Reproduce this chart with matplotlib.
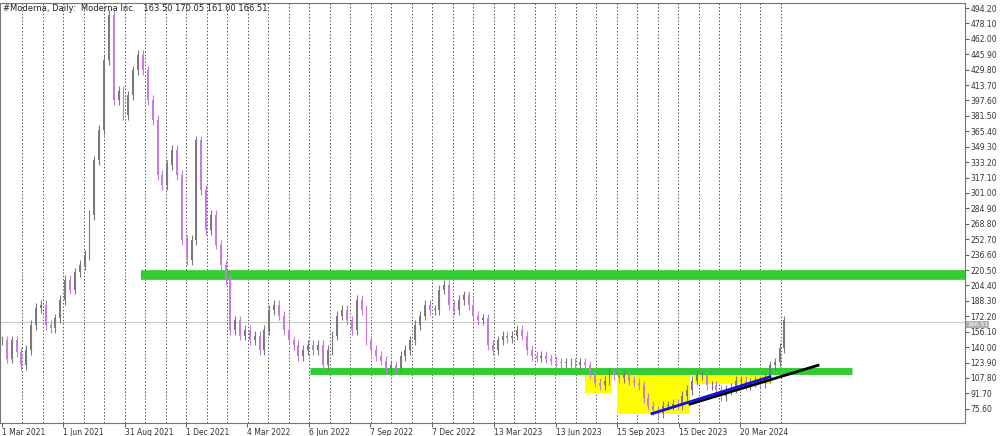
import matplotlib
matplotlib.use("Agg")
import matplotlib.pyplot as plt
from matplotlib.patches import Rectangle

# weekly closes
closes = [147,128,147,135,121,137,163,181,184,163,160,170,189,210,200,218,226,236,278,335,367,440,487,398,408,382,403,429,445,429,398,377,320,309,330,346,320,252,231,252,356,304,262,278,247,226,210,158,168,152,158,147,152,137,158,179,184,173,158,147,142,131,137,142,137,142,121,137,152,173,179,168,158,189,179,147,137,131,126,118,121,118,131,137,147,163,173,184,179,179,200,205,184,179,189,194,184,173,168,170,142,137,147,152,149,152,158,152,137,131,129,131,128,126,124,123,124,124,121,124,121,113,103,100,105,113,111,108,111,105,103,100,87,79,74,71,79,79,81,79,89,95,105,111,111,100,100,95,89,95,97,105,105,100,103,105,102,108,121,124,139,168]
date_labels = ["1 Mar 2021","1 Jun 2021","31 Aug 2021","1 Dec 2021","4 Mar 2022","6 Jun 2022","7 Sep 2022","7 Dec 2022","13 Mar 2023","13 Jun 2023","15 Sep 2023","15 Dec 2023","20 Mar 2024"]
date_weeks = [0,12.55,25.3,37.9,50.4,63.2,75.7,88.5,101.2,114,126.5,139.3,151.9]
price_ticks = [494.2,478.1,462.0,445.9,429.8,413.7,397.6,381.5,365.4,349.3,333.2,317.1,301.0,284.9,268.8,252.7,236.6,220.5,204.4,188.3,172.2,156.1,140.0,123.9,107.8,91.7,75.6]
last_price = 166.51
resistance = 215.3
support = 115.1

W = 4.86  # px per week
top_px, bot_px = 3, 423
fig = plt.figure(figsize=(10, 4.36), dpi=100)
ax = fig.add_axes([0.0, 1-bot_px/436, 0.965, (bot_px-top_px)/436])
ax.set_xlim(-2/W, 965/W - 2/W)
ax.set_ylim(494.2-(bot_px-8)*1.0445, 494.2+(8-top_px)*1.0445)

def px(x):
    return (x - 2) / W

for m in range(1, 39):
    ax.axvline(px(2 + m*20.5), color='#555555', lw=0.7, ls=(0, (1.5, 2)), zorder=0)

ax.add_patch(Rectangle((px(585), 92), 27/W, 23, color='#ffff00', zorder=1, lw=0))
ax.add_patch(Rectangle((px(617), 70), 73/W, 45, color='#ffff00', zorder=1, lw=0))
ax.add_patch(Rectangle((px(694), 101), 76/W, 14, color='#ffff00', zorder=1, lw=0))

ax.axhline(last_price, color='#c8c8c8', lw=0.8, zorder=1)
ax.plot([px(141), px(965)], [resistance]*2, color='#32cd32', lw=7, solid_capstyle='butt', zorder=2)
ax.plot([px(310), px(852)], [support]*2, color='#32cd32', lw=5, solid_capstyle='butt', zorder=2)

prev = closes[0]
for i, c in enumerate(closes):
    o = prev
    up = c >= o
    col = '#7a7a7a' if up else '#c77ddf'
    lo, hi = min(o, c), max(o, c)
    ax.vlines(i, lo - 5, hi + 5, color=col, lw=0.8, zorder=3)
    ax.add_patch(Rectangle((i - 0.2, lo), 0.4, max(hi - lo, 0.8), color=col, zorder=3, lw=0))
    prev = c

ax.plot([px(690), px(818)], [80.5, 121], color='black', lw=2, zorder=4)
ax.plot([px(652), px(770)], [70.5, 109], color='#1010e0', lw=2, zorder=5)

ax.yaxis.tick_right()
ax.set_yticks(price_ticks)
ax.set_yticklabels([f"{p:.2f}" for p in price_ticks])
ax.set_xticks(date_weeks)
ax.set_xticklabels(date_labels, ha='left')
ax.tick_params(labelsize=5.5, length=3, color='#666666', labelcolor='#333333', pad=1)
ax.tick_params(axis='x', pad=0.5)
for s in ax.spines.values():
    s.set_color('#777777')
ax.text(px(967), last_price - 3, f"{last_price:.2f}", transform=ax.transData, fontsize=4.5,
        color='white', va='center', ha='left', clip_on=False,
        bbox=dict(boxstyle='square,pad=0.1', fc='#b0b0b0', ec='none'))
ax.text(0.003, 0.997, "#Moderna, Daily:  Moderna Inc.   163.50 170.05 161.00 166.51",
        transform=ax.transAxes, fontsize=6, va='top', ha='left', color='#222222')
fig.savefig("out.png", dpi=100)
